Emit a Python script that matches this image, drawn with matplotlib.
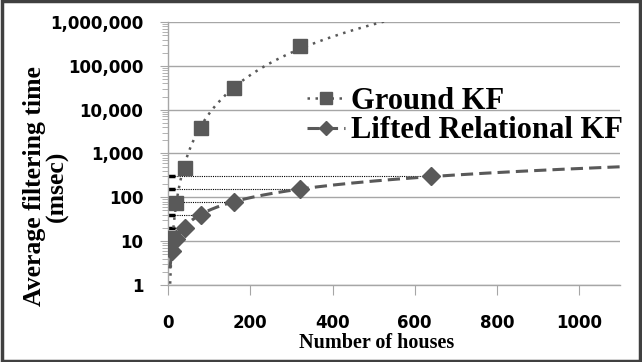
import numpy as np
from matplotlib import pyplot as plt
from matplotlib.ticker import FuncFormatter, LogLocator, NullFormatter
from matplotlib.patches import Rectangle

# values
ground_x = [10, 20, 40, 80, 160, 320]
ground_ms = [12, 75, 470, 3800, 32000, 285000]
lifted_x = [10, 20, 40, 80, 160, 320, 640]
lifted_ms = [6, 11, 20, 40, 77, 155, 310]

grey = '#595959'

fig = plt.figure(figsize=(6.42, 3.62), dpi=100)
ax = fig.add_axes([0.262, 0.213, 0.704, 0.726])


def power_trend(xs, ys, x_from, x_to):
    # power-law trendline like in excel
    b, a = np.polyfit(np.log10(xs), np.log10(ys), 1)
    xx = np.linspace(x_from, x_to, 400)
    return xx, 10 ** (a + b * np.log10(xx))


tx, ty = power_trend(ground_x, ground_ms, 4, 1100)
ax.plot(tx, ty, color=grey, linestyle=(0, (1, 2.2)), linewidth=1.8, zorder=3)
tx, ty = power_trend(lifted_x, lifted_ms, 4, 1100)
ax.plot(tx, ty, color=grey, linestyle=(0, (4, 2)), linewidth=2.2, zorder=3)

# drop lines to the lifted points
ax.hlines(lifted_ms, 0, lifted_x, colors='black', linestyles=(0, (1, 1)),
          linewidth=0.8, zorder=2)
ax.hlines(lifted_ms, 0, 16, colors='black', linewidth=2.5, zorder=2)

ax.plot(ground_x, ground_ms, linestyle='none', marker='s', markersize=10,
        color=grey, zorder=4)
ax.plot(lifted_x, lifted_ms, linestyle='none', marker='D', markersize=9,
        color=grey, zorder=4)

# legend handles
ax.plot([], [], color=grey, linestyle=(0, (1, 2.2)), linewidth=1.8,
        marker='s', markersize=9, label='Ground KF')
ax.plot([], [], color=grey, linestyle=(0, (4, 2)), linewidth=2.2,
        marker='D', markersize=7, label='Lifted Relational KF')
ax.legend(loc='center left', bbox_to_anchor=(307 / 642, 1 - 116 / 362),
          bbox_transform=fig.transFigure, frameon=False,
          prop={'family': 'Liberation Serif', 'weight': 'bold', 'size': 22},
          handlelength=1.25, handletextpad=0.2, labelspacing=0.03,
          borderpad=0, borderaxespad=0)

ax.set_yscale('log')
ax.set_ylim(1, 1e6)
ax.set_xlim(0, 1100)
ax.set_xticks([0, 200, 400, 600, 800, 1000])
ax.yaxis.set_major_locator(LogLocator(base=10, numticks=10))
ax.yaxis.set_minor_locator(LogLocator(base=10, subs=np.arange(2, 10), numticks=10))
ax.yaxis.set_minor_formatter(NullFormatter())
ax.yaxis.set_major_formatter(FuncFormatter(lambda v, p: f'{int(round(v)):,}'))
ax.grid(True, which='major', axis='y', color='#a6a6a6', linewidth=1)
ax.set_axisbelow(True)

for s in ['top', 'right']:
    ax.spines[s].set_visible(False)
for s in ['left', 'bottom']:
    ax.spines[s].set_color('#a6a6a6')
    ax.spines[s].set_linewidth(1)
ax.tick_params(axis='both', which='both', colors='#a6a6a6', labelcolor='black')
ax.tick_params(axis='y', which='major', length=6, direction='out', pad=12)
ax.tick_params(axis='y', which='minor', length=4)
ax.tick_params(axis='x', length=7, pad=14)
for lbl in ax.get_xticklabels() + ax.get_yticklabels():
    lbl.set_fontweight('bold')
    lbl.set_fontsize(12)
    lbl.set_family('DejaVu Sans')

fig.text(46 / 642, 1 - 186 / 362, 'Average filtering time\n(msec)', rotation=90,
         ha='center', va='center', family='Liberation Serif', fontweight='bold',
         fontsize=18.5, linespacing=1.0, multialignment='center')
fig.text(377 / 642, 1 - 348 / 362, 'Number of houses', ha='center', va='baseline',
         family='Liberation Serif', fontweight='bold', fontsize=14.5)

fig.patches.append(Rectangle((0.003, 0.004), 0.994, 0.992, transform=fig.transFigure,
                             fill=False, edgecolor='#404040', linewidth=2.5))

fig.savefig('out.png', dpi=100)
